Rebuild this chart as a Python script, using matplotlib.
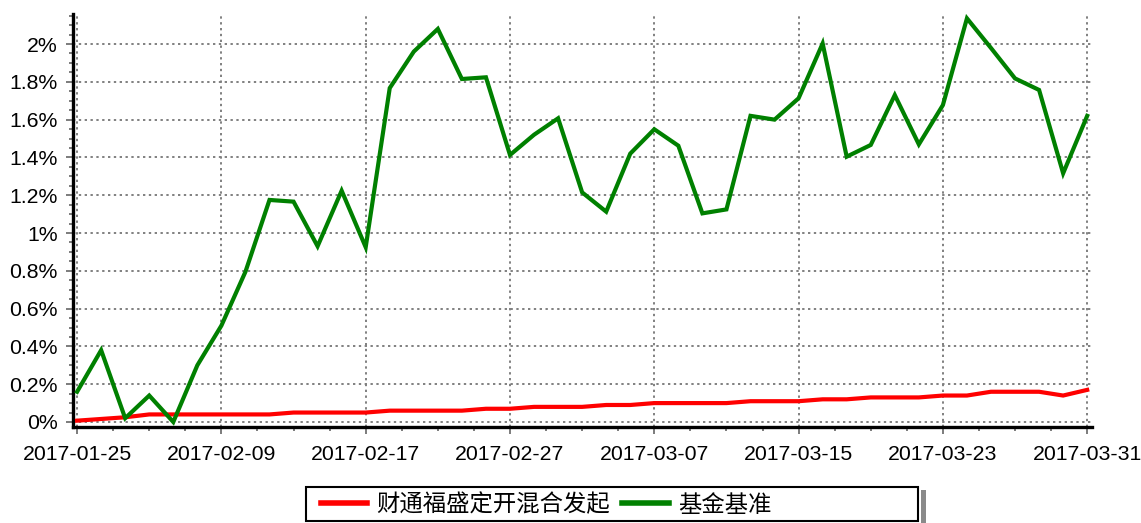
import numpy as np
import matplotlib
matplotlib.use('Agg')
import matplotlib.pyplot as plt
from matplotlib.ticker import FixedLocator, MultipleLocator, FuncFormatter
from matplotlib.patches import Rectangle
from matplotlib.lines import Line2D

plt.rcParams['font.family'] = ['Liberation Sans', 'Noto Sans CJK SC', 'DejaVu Sans']

# 交易日
dates = ['2017-01-25', '2017-01-26', '2017-02-03', '2017-02-06', '2017-02-07', '2017-02-08',
         '2017-02-09', '2017-02-10', '2017-02-13', '2017-02-14', '2017-02-15', '2017-02-16',
         '2017-02-17', '2017-02-20', '2017-02-21', '2017-02-22', '2017-02-23', '2017-02-24',
         '2017-02-27', '2017-02-28', '2017-03-01', '2017-03-02', '2017-03-03', '2017-03-06',
         '2017-03-07', '2017-03-08', '2017-03-09', '2017-03-10', '2017-03-13', '2017-03-14',
         '2017-03-15', '2017-03-16', '2017-03-17', '2017-03-20', '2017-03-21', '2017-03-22',
         '2017-03-23', '2017-03-24', '2017-03-27', '2017-03-28', '2017-03-29', '2017-03-30',
         '2017-03-31']

# 累计收益率 (%)
fund = [0.007, 0.016, 0.025, 0.04, 0.04, 0.04, 0.04, 0.04, 0.04, 0.05,
        0.05, 0.05, 0.05, 0.06, 0.06, 0.06, 0.06, 0.07, 0.07, 0.08,
        0.08, 0.08, 0.09, 0.09, 0.10, 0.10, 0.10, 0.10, 0.11, 0.11,
        0.11, 0.12, 0.12, 0.13, 0.13, 0.13, 0.14, 0.14, 0.16, 0.16,
        0.16, 0.14, 0.17]
bench = [0.16, 0.38, 0.02, 0.14, 0.00, 0.30, 0.51, 0.795, 1.175, 1.166,
         0.93, 1.224, 0.925, 1.767, 1.96, 2.08, 1.815, 1.824, 1.413, 1.52,
         1.607, 1.215, 1.113, 1.42, 1.549, 1.462, 1.104, 1.125, 1.62, 1.60,
         1.713, 2.003, 1.404, 1.466, 1.73, 1.469, 1.677, 2.136, 1.979, 1.818,
         1.757, 1.316, 1.62]

names = ['财通福盛定开混合发起', '基金基准']
colors = ['#ff0000', '#008000']

x = np.arange(len(dates))

fig = plt.figure(figsize=(11.41, 5.23), dpi=100, facecolor='white')
ax = fig.add_axes([73 / 1141, 1 - 427 / 523, (1092 - 73) / 1141, (427 - 14) / 523])

ax.plot(x, fund, color=colors[0], lw=3, solid_joinstyle='miter', zorder=3)
ax.plot(x, bench, color=colors[1], lw=3, solid_joinstyle='miter', zorder=3)

ax.set_xlim(-0.17, 42.2)
ax.set_ylim(-0.0265, 2.159)

major_x = list(range(0, len(dates), 6))
ax.xaxis.set_major_locator(FixedLocator(major_x))
ax.set_xticklabels([dates[i] for i in major_x])
ax.xaxis.set_minor_locator(MultipleLocator(1.5))
ax.yaxis.set_major_locator(MultipleLocator(0.2))
ax.yaxis.set_minor_locator(MultipleLocator(0.05))
ax.yaxis.set_major_formatter(FuncFormatter(lambda v, p: '%g%%' % round(v, 2)))

ax.grid(True, which='major', color='#808080', linestyle=(0, (1.2, 1.8)), lw=1.4)

for s in ['top', 'right']:
    ax.spines[s].set_visible(False)
for s in ['left', 'bottom']:
    ax.spines[s].set_linewidth(2.4)
    ax.spines[s].set_color('black')

ax.tick_params(axis='both', which='major', length=5, width=1.2, color='#666666', labelsize=15.3)
ax.tick_params(axis='both', which='minor', length=3, width=1.2, color='#666666')
ax.tick_params(axis='x', which='major', pad=8)
ax.tick_params(axis='y', which='major', pad=6)

# 图例
fig.patches.append(Rectangle((921 / 1141, 0), 5 / 1141, (523 - 490) / 523,
                             transform=fig.transFigure, facecolor='#8a8a8a', edgecolor='none'))
fig.patches.append(Rectangle((306 / 1141, 1 - 521 / 523), 612 / 1141, 34 / 523,
                             transform=fig.transFigure, facecolor='white', edgecolor='black', lw=1.5))
handles = [Line2D([], [], color=c, lw=4) for c in colors]
fig.legend(handles, names, loc='center left', bbox_to_anchor=(309 / 1141, 1 - 505 / 523),
           ncol=2, frameon=False, borderpad=0, handlelength=2.0, handletextpad=0.4,
           columnspacing=0.5, prop={'family': ['Noto Sans CJK SC', 'DejaVu Sans'], 'size': 16.8})

fig.savefig('out.png', dpi=100)
